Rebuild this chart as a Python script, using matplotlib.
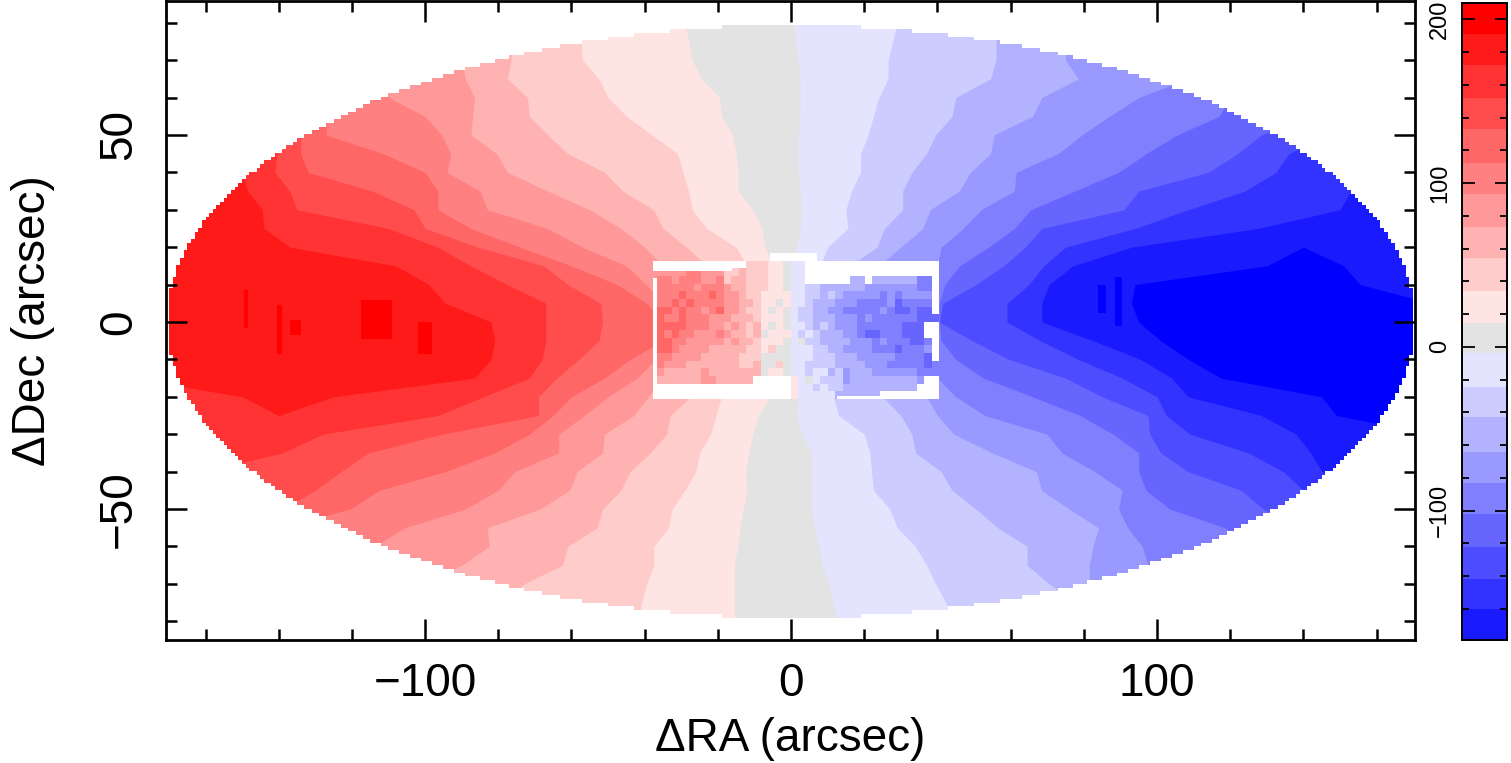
import numpy as np
import matplotlib
matplotlib.use('Agg')
import matplotlib.pyplot as plt
from matplotlib.colors import ListedColormap, BoundaryNorm
from matplotlib.patches import Rectangle
from matplotlib.ticker import MultipleLocator

plt.rcParams['font.family'] = ['Liberation Sans', 'DejaVu Sans']

dec_rows = [80, 70, 65, 60, 55, 50, 45, 40, 35, 30, 25, 20, 15, 10, 5, 0, -5, -10, -15, -20, -25, -30,
            -35, -40, -45, -50, -55, -60, -65, -70, -80]

# RA of each contour at those rows, receding side, lightest first
red_1 = [-29, -27, -24.5, -19.5, -19, -16, -15, -14.5, -14.5, -10.5, -8, -7, -5, -5, -5, -5, -5, -5, -5, -5.5, -9, -10.5, -11.5, -12.5, -12, -13, -14, -14.5, -15.5, -15.5, -15.5]
red_2 = [-57.5, -57, -52.5, -50, -45, -38, -31, -29.5, -28, -27, -23, -15, -12, -10.5, -9.5, -8.5, -8.5, -9.5, -12, -19, -20.5, -22, -25, -26, -29, -32.5, -33.5, -37.5, -37.5, -39.5, -42]
red_3 = [-76.5, -76.5, -77.5, -72, -71.5, -66.5, -61, -51, -46, -37.5, -35, -28.5, -23, -19.5, -16.5, -13, -14, -18.5, -23, -27.5, -33, -34, -38.5, -44, -46.5, -51.5, -53, -61, -62.5, -73, -83]
red_4 = [-94.5, -90, -89, -86.5, -87, -87.5, -80.5, -77.5, -66.5, -55, -46.5, -40, -35, -33, -29.5, -27.5, -27.5, -31, -35, -39, -43, -51, -51.5, -58.5, -60.5, -68.5, -83, -82.5, -90, -100, -116.5]
red_5 = [-116.5, -112, -112, -110, -100, -95.5, -93, -94, -85, -83, -66.5, -57, -45, -39.5, -35, -34, -34, -37, -42, -50, -56.5, -63.5, -63.5, -75.5, -80, -89, -105.5, -114, -120, -128, -139]
red_6 = [-150, -139, -134, -128, -127, -127, -111.5, -100, -96.5, -96.5, -87.5, -74, -60, -47.5, -39.5, -35, -35, -44, -51, -60, -65, -71.5, -81, -94.5, -112.5, -120.5, -139, -139, -145, -150, -161]
red_7 = [-161, -150, -145, -139, -137, -134, -134, -132, -114.5, -103, -100, -85.5, -67.5, -61, -52, -51.5, -52.5, -58, -64, -69, -69, -95.5, -115.5, -123, -130, -139, -150, -161, -172, -172, -172]
red_8 = [-172, -161, -156, -150, -147, -144.5, -140.5, -141, -137, -135, -110, -96.5, -87.5, -77.5, -67, -67, -67, -68, -71.5, -84, -96.5, -128, -139, -161, -172, -172, -172, -172, -172, -172, -172]
red_9 = [-172, -172, -172, -161, -158, -156, -153, -150, -148.5, -144.5, -144, -137, -108, -99, -94.5, -82, -81, -82, -86.5, -125, -140, -142, -142, -142, -142, -142, -142, -142, -142, -142, -142]
red_9_left = [-180, -180, -180, -180, -180, -180, -180, -180, -180, -180, -180, -180, -180, -180, -180, -180, -180, -180, -180, -150, -140, -142, -142, -142, -142, -142, -142, -142, -142, -142, -142]

# approaching side, lightest first
blue_1 = [0.5, 2, 2.5, 2.5, 2.5, 2, 2, 2, 2.5, 3, 2.5, 1.5, 1, 0.5, 0.5, 0.5, 1, 1, 1, 2, 1.5, 3, 5.5, 5.5, 5.5, 5.5, 6.5, 7.5, 8.5, 10.5, 12.5]
blue_2 = [29, 26.5, 26.5, 24, 22.5, 21, 19, 19, 16.5, 15, 15.5, 10, 8, 6.5, 5.5, 5, 5, 6.5, 9, 11.5, 13, 20, 21.5, 22, 22.5, 27, 29, 34, 37, 39.5, 45]
blue_3 = [56, 56, 54.5, 45, 44, 39.5, 37, 33, 30.5, 30.5, 25.5, 23.5, 16, 13.5, 12.5, 11.5, 11.5, 13, 14, 25, 30, 33, 34, 41, 44, 50.5, 56.5, 64.5, 64.5, 70.5, 86]
blue_4 = [75, 75, 78.5, 68.5, 66, 55.5, 54.5, 49, 46, 38, 36, 30, 24, 18, 16, 15.5, 16, 18, 24, 37, 40, 44.5, 55, 67, 68.5, 76, 84, 82.5, 81.5, 81.5, 81.5]
blue_5 = [108.5, 108.5, 108.5, 95, 87, 79.5, 73, 61.5, 61, 52, 47, 41, 40, 40, 40, 40, 39.5, 40, 40, 45, 53, 70, 74, 83, 90.5, 89.5, 92, 96, 97.5, 97.5, 97.5]
blue_6 = [131, 131, 131, 120, 117, 105.5, 97, 89.5, 77.5, 65.5, 61, 54, 46, 42, 40.5, 40.5, 41, 45, 52.5, 66, 79, 88, 95, 95, 97, 103.5, 118.5, 125, 125, 125, 125]
blue_7 = [142, 142, 142, 142, 142, 128.5, 122, 114, 95, 91, 68.5, 64, 58, 50.5, 41.5, 40.5, 49.5, 59.5, 75, 85, 97.5, 98, 101, 108.5, 123, 129, 142, 142, 142, 142, 142]
blue_8 = [175, 175, 175, 175, 175, 147.5, 136, 132.5, 124, 108.5, 94, 75, 69, 65, 59, 59, 68, 78.5, 90.5, 100, 102.5, 109, 125, 134.5, 140, 153, 175, 175, 175, 175, 175]
blue_9 = [175, 175, 175, 175, 175, 175, 175, 164, 153, 150, 127.5, 93, 77, 70.5, 68.5, 68.5, 82.5, 95.5, 104, 108.5, 128.5, 138, 142, 145, 175, 175, 175, 175, 175, 175, 175]
blue_core = [175, 175, 175, 175, 175, 175, 175, 175, 175, 175, 140, 140, 130, 94, 93, 95, 101, 108.5, 117.5, 145, 149, 175, 175, 175, 175, 175, 175, 175, 175, 175, 175]
blue_core_right = [175, 175, 175, 175, 175, 175, 175, 175, 175, 175, 140, 140, 151, 155.5, 175, 175, 175, 175, 175, 175, 175, 175, 175, 175, 175, 175, 175, 175, 175, 175, 175]

# small peak spots: ra0, ra1, dec0, dec1
red_spots = [(-117.5, -109, -4.5, 6), (-102, -98, -8.5, 0), (-140.5, -139, -8.5, 4.5),
             (-149.5, -148.5, -1.5, 8.5), (-137, -134, -3.5, 0.5)]
blue_spots = [(84, 86, 2.5, 10), (88.5, 90.5, -1, 12)]

# inner IFU map, band number per cell (0 = systemic, + red, - blue, W = no data)
W = 8
ifu_bands = [
    [W, W, W, W, W, W, W, W, W, W, W, W, 2, 2, 2, 1, 1, 0, -1, -1, W, W, W, W, W, W, W, W, W, W, W, W, W, W, W, W, W, W],
    [4, 4, 4, 4, 5, 5, 4, 4, 4, 2, 2, 3, 2, 2, 2, 1, 1, 0, -1, -1, W, W, W, W, W, W, W, W, W, W, W, W, W, W, W, W, W, W],
    [5, 5, 4, 5, 5, 5, 4, 4, 5, 2, 3, 3, 2, 2, 2, 1, 1, 0, -1, -1, W, W, W, W, W, W, -3, -3, W, -3, -3, -3, -3, -3, -3, -5, -5, W],
    [5, 5, 5, 5, 5, 4, 5, 5, 5, 4, 3, 3, 2, 2, 2, 1, 1, 0, -1, -1, -2, -2, -3, -3, -3, -3, -3, -3, -4, -4, -4, -4, -4, -4, -4, -5, -5, W],
    [5, 5, 5, 6, 5, 5, 5, 6, 5, 4, 4, 3, 2, 2, 1, 1, 1, 1, -1, -1, -2, -2, -3, -2, -3, -4, -4, -4, -4, -4, -5, -4, -5, -4, -4, -4, -4, W],
    [5, 5, 6, 5, 6, 5, 5, 5, 5, 4, 4, 3, 3, 2, 1, 1, 0, 1, -1, -1, -2, -3, -3, -3, -4, -4, -4, -5, -5, -5, -5, -4, -6, -5, -5, -5, -5, W],
    [6, 6, 5, 6, 5, 5, 4, 5, 6, 4, 4, 3, 2, 2, 1, 0, 1, 0, -1, -2, -2, -3, -3, -4, -4, -5, -5, -5, -5, -5, -4, -5, -6, -6, -5, -6, -6, W],
    [6, 5, 5, 6, 5, 5, 5, 4, 4, 4, 3, 3, 3, 2, 1, 1, 1, 0, -1, -2, -2, -3, -3, -3, -4, -4, -4, -5, -4, -5, -5, -5, -5, -5, -5, -6, -6, -6],
    [6, 6, 6, 6, 5, 5, 5, 4, 4, 3, 4, 3, 2, 3, 1, 0, 1, 0, -1, -1, -2, -3, -2, -3, -4, -4, -4, -5, -5, -5, -5, -5, -5, -6, -6, -6, W, W],
    [6, 5, 6, 5, 5, 4, 4, 4, 5, 4, 3, 3, 2, 3, 0, 1, 1, 1, -1, -2, -1, -2, -3, -3, -3, -4, -4, -5, -6, -6, -5, -5, -5, -6, -6, -6, W, W],
    [6, 6, 5, 5, 4, 4, 4, 4, 4, 3, 4, 3, 3, 2, 1, 1, 1, 0, -1, 0, -2, -2, -3, -3, -3, -3, -4, -4, -4, -5, -4, -5, -5, -5, -6, -6, -5, W],
    [6, 6, 5, 4, 4, 4, 4, 3, 3, 3, 3, 3, 2, 2, 1, 2, 0, 0, -1, -1, -1, -2, -2, -3, -3, -4, -4, -4, -4, -5, -5, -5, -6, -5, -5, -5, -4, W],
    [5, 5, 4, 4, 4, 4, 3, 3, 3, 3, 3, 2, 2, 2, 0, 0, 0, 0, -1, -1, -1, -2, -2, -2, -3, -3, -3, -4, -4, -4, -4, -4, -5, -5, -5, -5, -6, W],
    [5, 4, 4, 4, 3, 3, 3, 3, 3, 3, 3, 2, 2, 3, 0, 0, 2, 0, -1, -1, -2, -2, -2, -2, -3, -3, -3, -3, -4, -4, -4, -5, -5, -5, -5, -5, -6, -5],
    [4, 3, 3, 3, 3, 3, 4, 3, 3, 3, 3, 3, 3, 3, 0, 1, 1, 0, -1, -1, -2, -1, -1, -3, -2, -4, -3, -3, -3, -4, -4, -4, -4, -4, -4, -5, -5, -5],
    [3, 3, 3, 3, 3, 3, 4, 4, 3, 3, 3, 3, 3, W, W, W, W, W, 1, -1, 0, -1, -2, -2, -2, -4, -3, -3, -3, -3, -3, -3, -3, -3, -3, -4, W, W],
    [W, W, W, W, W, W, W, W, W, W, W, W, W, W, W, W, W, W, 1, -1, -1, -2, -1, -2, -2, -3, -3, -3, -3, -3, -3, -3, -3, -3, -3, W, W, W],
    [W, W, W, W, W, W, W, W, W, W, W, W, W, W, W, W, W, W, 1, -1, -1, -1, -1, -1, -3, -3, -3, -3, -3, -3, W, W, W, W, W, W, W, W],
]
# white frame pieces outside that grid: ra0, ra1, dec0, dec1
ifu_frame = [(-37.8, -16, 13.5, 16.4), (-37.8, -36.7, -20.6, 11.8), (-5.7, 7, 16.4, 18.4), (12.5, 25.4, -20.6, -19.7)]

# colour bands, gray in the middle
red_colors = ['#ffe4e4', '#ffcccc', '#ffb2b2', '#ff9999', '#ff8080', '#ff6666', '#ff4d4d', '#ff3333', '#ff1a1a', '#ff0000']
gray_color = '#e3e3e3'
blue_colors = ['#e4e4ff', '#ccccff', '#b2b2ff', '#9999ff', '#8080ff', '#6666ff', '#4d4dff', '#3333ff', '#1a1aff', '#0000ff']

# colorbar band edges, km/s
cbar_edges = [-179, -160, -142, -122, -102, -83, -64, -43, -24.5, -4, 14.7, 34, 54, 73, 93.6, 112.5, 133, 152, 172, 191, 210]

fig = plt.figure(figsize=(15.11, 7.63), dpi=100)
ax = fig.add_axes([166 / 1511, 1 - 640 / 763, (1415 - 166) / 1511, 639 / 763])

ax.fill_betweenx(dec_rows, -180, 180, color=gray_color, lw=0, antialiased=False)
reds = [red_1, red_2, red_3, red_4, red_5, red_6, red_7, red_8]
for ra, c in zip(reds, red_colors):
    ax.fill_betweenx(dec_rows, -180, ra, color=c, lw=0, antialiased=False)
ax.fill_betweenx(dec_rows, red_9_left, red_9, color=red_colors[8], lw=0, antialiased=False)
blues = [blue_1, blue_2, blue_3, blue_4, blue_5, blue_6, blue_7, blue_8, blue_9]
for ra, c in zip(blues, blue_colors):
    ax.fill_betweenx(dec_rows, ra, 180, color=c, lw=0, antialiased=False)
ax.fill_betweenx(dec_rows, blue_core, blue_core_right, color=blue_colors[9], lw=0, antialiased=False)

for r0, r1, d0, d1 in red_spots:
    ax.add_patch(Rectangle((r0, d0), r1 - r0, d1 - d0, color=red_colors[9], lw=0, antialiased=False))
for r0, r1, d0, d1 in blue_spots:
    ax.add_patch(Rectangle((r0, d0), r1 - r0, d1 - d0, color=blue_colors[9], lw=0, antialiased=False))

# stepped elliptical footprint, white outside
gx = np.arange(-176, 176)
gy = np.arange(-90, 90)
xx, yy = np.meshgrid(gx + 0.5, gy + 0.5)
outside = (xx / 170.5) ** 2 + (yy / 79.0) ** 2 > 1
ax.imshow(np.dstack([np.ones(outside.shape)] * 3 + [outside.astype(float)]), origin='lower',
          extent=[-176, 176, -90, 90], interpolation='nearest', aspect='auto', zorder=1.5)

# inner map on top
ifu_cmap = ListedColormap(blue_colors[6::-1] + [gray_color] + red_colors[:7] + ['white'])
ifu_x = np.linspace(-36.7, 40.5, 39)
ifu_y = np.linspace(16.4, -20.6, 19)
ax.pcolormesh(ifu_x, ifu_y, np.array(ifu_bands), cmap=ifu_cmap, vmin=-7.5, vmax=8.5, zorder=2)
for r0, r1, d0, d1 in ifu_frame:
    ax.add_patch(Rectangle((r0, d0), r1 - r0, d1 - d0, color='white', lw=0, zorder=2))

ax.set_xlim(-170.8, 170.5)
ax.set_ylim(-85.0, 85.8)
ax.xaxis.set_major_locator(MultipleLocator(100))
ax.xaxis.set_minor_locator(MultipleLocator(20))
ax.yaxis.set_major_locator(MultipleLocator(50))
ax.yaxis.set_minor_locator(MultipleLocator(10))
ax.tick_params(which='both', direction='in', top=True, right=True, width=1.8, color='black')
ax.tick_params(which='major', length=15)
ax.tick_params(which='minor', length=8)
ax.tick_params(axis='x', labelsize=33, pad=16)
ax.tick_params(axis='y', labelsize=33, pad=18)
for t in ax.get_yticklabels():
    t.set_rotation(90)
    t.set_va('center')
for s in ax.spines.values():
    s.set_linewidth(2)
    s.set_zorder(5)
ax.set_xlabel('ΔRA (arcsec)', fontsize=33, labelpad=8)
ax.set_ylabel('ΔDec (arcsec)', fontsize=33, labelpad=30)

# colorbar
cax = fig.add_axes([1462 / 1511, 1 - 640 / 763, 45 / 1511, 637 / 763])
cbar_colors = blue_colors[8::-1] + [gray_color] + red_colors
cmap = ListedColormap(cbar_colors)
norm = BoundaryNorm(cbar_edges, cmap.N)
centres = (np.array(cbar_edges[:-1]) + np.array(cbar_edges[1:])) / 2
cax.pcolormesh([0, 1], cbar_edges, centres[:, None], cmap=cmap, norm=norm)
cax.set_xticks([])
cax.set_ylim(-179, 210)
cax.yaxis.set_major_locator(MultipleLocator(100))
cax.yaxis.set_minor_locator(MultipleLocator(20))
cax.tick_params(which='both', direction='in', left=True, right=True, width=1.3, color='black')
cax.tick_params(which='major', length=9)
cax.tick_params(which='minor', length=5)
cax.tick_params(axis='y', pad=8, labelsize=17)
for t in cax.get_yticklabels():
    t.set_rotation(90)
    t.set_va('center')
for s in cax.spines.values():
    s.set_linewidth(1.4)

fig.savefig('out.png', dpi=100)
